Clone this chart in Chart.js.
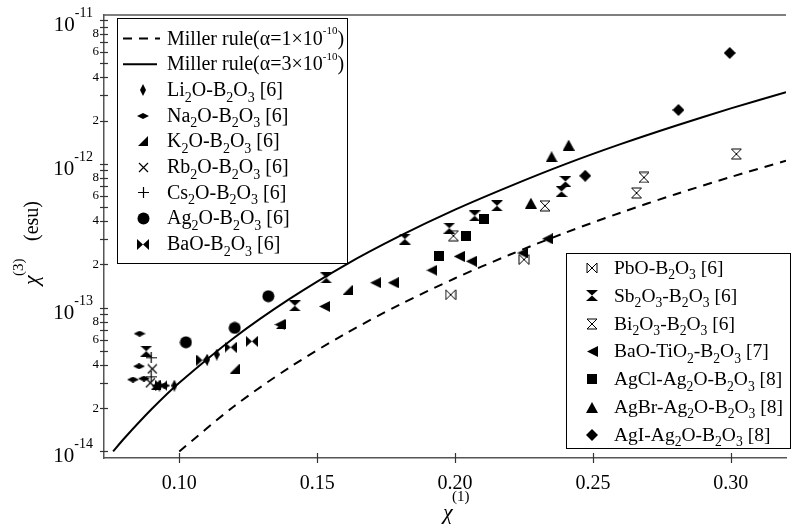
<!DOCTYPE html>
<html>
<head>
<meta charset="utf-8">
<script src="https://cdn.jsdelivr.net/npm/chart.js@4"></script>
<style>
  html, body { margin: 0; padding: 0; background: #fff; }
</style>
</head>
<body>
<canvas id="chart" width="792" height="525"></canvas>
<script>
// Miller rule curves
const millerSolidX = [0.076, 0.08, 0.09, 0.10, 0.12, 0.14, 0.16, 0.18, 0.20, 0.22, 0.24, 0.26, 0.28, 0.30, 0.32];
const millerSolidY = [1.0e-14, 1.23e-14, 1.97e-14, 3.0e-14, 6.2e-14, 1.15e-13, 1.97e-13, 3.15e-13, 4.8e-13, 7.0e-13, 9.95e-13, 1.37e-12, 1.84e-12, 2.43e-12, 3.15e-12];
const millerDashX = [0.10, 0.12, 0.14, 0.16, 0.18, 0.20, 0.22, 0.24, 0.26, 0.28, 0.30, 0.32];
const millerDashY = [1.0e-14, 2.07e-14, 3.84e-14, 6.55e-14, 1.05e-13, 1.6e-13, 2.34e-13, 3.32e-13, 4.57e-13, 6.15e-13, 8.1e-13, 1.05e-12];

// glass data
const li2oX = [0.0928, 0.0982, 0.1101, 0.1136];
const li2oY = [2.87e-14, 2.87e-14, 4.35e-14, 4.72e-14];
const na2oX = [0.0856, 0.0854, 0.0832, 0.0872, 0.0921, 0.0946];
const na2oY = [6.59e-14, 3.91e-14, 3.16e-14, 3.21e-14, 2.87e-14, 2.87e-14];
const k2oX = [0.0916, 0.1201, 0.1369, 0.161];
const k2oY = [2.92e-14, 3.77e-14, 7.71e-14, 1.33e-13];
const rb2oX = [0.0902, 0.0895];
const rb2oY = [3.75e-14, 3.0e-14];
const cs2oX = [0.0898, 0.0898];
const cs2oY = [4.48e-14, 3.3e-14];
const ag2oX = [0.1024, 0.1201, 0.1323];
const ag2oY = [5.74e-14, 7.23e-14, 1.20e-13];
const baoX = [0.0935, 0.1084, 0.1186, 0.1263];
const baoY = [2.87e-14, 4.31e-14, 5.30e-14, 5.83e-14];
const pboX = [0.1984, 0.2250];
const pboY = [1.23e-13, 2.16e-13];
const sb2o3X = [0.0880, 0.1419, 0.1533, 0.1818, 0.1979, 0.2071, 0.2152, 0.2386, 0.2400];
const sb2o3Y = [4.98e-14, 1.03e-13, 1.61e-13, 3.0e-13, 3.57e-13, 4.35e-13, 5.11e-13, 6.43e-13, 7.54e-13];
const bi2o3X = [0.1994, 0.2326, 0.2658, 0.2685, 0.3020];
const bi2o3Y = [3.16e-13, 5.11e-13, 6.27e-13, 8.04e-13, 1.17e-12];
const baotiX = [0.1365, 0.1527, 0.1712, 0.1776, 0.1916, 0.2015, 0.2059, 0.2245, 0.2335];
const baotiY = [7.62e-14, 1.02e-13, 1.49e-13, 1.49e-13, 1.82e-13, 2.27e-13, 2.10e-13, 2.40e-13, 3.01e-13];
const agclX = [0.1943, 0.2041, 0.2105];
const agclY = [2.27e-13, 3.13e-13, 4.15e-13];
const agbrX = [0.2275, 0.2350, 0.2412];
const agbrY = [5.33e-13, 1.12e-12, 1.35e-12];
const agiX = [0.2472, 0.2810, 0.2996];
const agiY = [8.26e-13, 2.37e-12, 5.9e-12];

const legendA = ['Miller rule(α=1×10^{-10})', 'Miller rule(α=3×10^{-10})', 'Li_2O-B_2O_3 [6]', 'Na_2O-B_2O_3 [6]',
  'K_2O-B_2O_3 [6]', 'Rb_2O-B_2O_3 [6]', 'Cs_2O-B_2O_3 [6]', 'Ag_2O-B_2O_3 [6]', 'BaO-B_2O_3 [6]'];
const legendB = ['PbO-B_2O_3 [6]', 'Sb_2O_3-B_2O_3 [6]', 'Bi_2O_3-B_2O_3 [6]', 'BaO-TiO_2-B_2O_3 [7]',
  'AgCl-Ag_2O-B_2O_3 [8]', 'AgBr-Ag_2O-B_2O_3 [8]', 'AgI-Ag_2O-B_2O_3 [8]'];

const xTicks = [0.10, 0.15, 0.20, 0.25, 0.30];
const yDecades = [-14, -13, -12, -11];

const FONT = '"Liberation Serif", "Times New Roman", serif';

// marker glyphs drawn on little canvases
function mk(w, h, draw) {
  const c = document.createElement('canvas');
  c.width = w; c.height = h;
  const g = c.getContext('2d');
  g.fillStyle = '#000'; g.strokeStyle = '#000'; g.lineWidth = 1.2;
  draw(g, w, h);
  return c;
}
function poly(g, p) {
  g.beginPath(); g.moveTo(p[0][0], p[0][1]);
  for (let i = 1; i < p.length; i++) g.lineTo(p[i][0], p[i][1]);
  g.closePath(); g.fill();
}
const mLi = mk(6, 12, (g, w, h) => poly(g, [[w / 2, 0], [w, h / 2], [w / 2, h], [0, h / 2]]));
const mNa = mk(12, 6, (g, w, h) => poly(g, [[w / 2, 0], [w, h / 2], [w / 2, h], [0, h / 2]]));
const mK = mk(10, 10, (g, w, h) => poly(g, [[w, 0], [w, h], [0, h]]));
const mRb = mk(11, 11, (g, w, h) => { g.beginPath(); g.moveTo(1, 1); g.lineTo(w - 1, h - 1); g.moveTo(w - 1, 1); g.lineTo(1, h - 1); g.stroke(); });
const mCs = mk(11, 11, (g, w, h) => { g.beginPath(); g.moveTo(w / 2, 0); g.lineTo(w / 2, h); g.moveTo(0, h / 2); g.lineTo(w, h / 2); g.stroke(); });
const mAg = mk(13, 13, (g, w, h) => { g.beginPath(); g.arc(w / 2, h / 2, 6, 0, Math.PI * 2); g.fill(); });
const mBa = mk(12, 11, (g, w, h) => { poly(g, [[0, 0], [w / 2, h / 2], [0, h]]); poly(g, [[w, 0], [w / 2, h / 2], [w, h]]); });
const mPb = mk(12, 12, (g, w, h) => { g.lineWidth = 1; g.beginPath(); g.moveTo(1, 1); g.lineTo(w - 1, h - 1); g.lineTo(w - 1, 1); g.lineTo(1, h - 1); g.closePath(); g.stroke(); });
const mSb = mk(12, 11, (g, w, h) => { poly(g, [[0, 0], [w, 0], [w / 2, h / 2]]); poly(g, [[0, h], [w, h], [w / 2, h / 2]]); });
const mBi = mk(12, 12, (g, w, h) => { g.lineWidth = 1; g.beginPath(); g.moveTo(1, 1); g.lineTo(w - 1, 1); g.lineTo(1, h - 1); g.lineTo(w - 1, h - 1); g.closePath(); g.stroke(); });
const mTi = mk(11, 11, (g, w, h) => poly(g, [[0, h / 2], [w, 0], [w, h]]));
const mCl = mk(10, 10, (g, w, h) => g.fillRect(0, 0, w, h));
const mBr = mk(12, 11, (g, w, h) => poly(g, [[w / 2, 0], [w, h], [0, h]]));
const mI = mk(12, 12, (g, w, h) => poly(g, [[w / 2, 0], [w, h / 2], [w / 2, h], [0, h / 2]]));

const marksA = [null, null, mLi, mNa, mK, mRb, mCs, mAg, mBa];
const marksB = [mPb, mSb, mBi, mTi, mCl, mBr, mI];

function pts(xs, ys) { return xs.map((x, i) => ({ x: x, y: ys[i] })); }

function scatterSet(label, xs, ys, mark) {
  return { label: label, data: pts(xs, ys), showLine: false, pointStyle: mark, pointRadius: 5, order: 1 };
}

// rich text: _x = subscript char, ^{..} = superscript
function parseRich(s) {
  const out = []; let buf = '', i = 0;
  while (i < s.length) {
    const ch = s[i];
    if (ch === '_') { if (buf) out.push([buf, 0]); buf = ''; out.push([s[i + 1], -1]); i += 2; }
    else if (ch === '^' && s[i + 1] === '{') {
      if (buf) out.push([buf, 0]); buf = '';
      const j = s.indexOf('}', i); out.push([s.slice(i + 2, j), 1]); i = j + 1;
    } else { buf += ch; i++; }
  }
  if (buf) out.push([buf, 0]);
  return out;
}
function drawRich(ctx, s, x, y, size) {
  ctx.textAlign = 'left'; ctx.textBaseline = 'alphabetic';
  parseRich(s).forEach(([t, m]) => {
    const fs = m === 0 ? size : size * (m === 1 ? 0.55 : 0.7);
    ctx.font = fs + 'px ' + FONT;
    const dy = m === -1 ? size * 0.28 : (m === 1 ? -size * 0.52 : 0);
    ctx.fillText(t, x, y + dy);
    x += ctx.measureText(t).width;
  });
}

function sig(v) {
  const e = Math.floor(Math.log10(v) + 1e-9);
  return Math.round(v / Math.pow(10, e));
}

const decor = {
  id: 'decor',
  afterDraw(chart) {
    const ctx = chart.ctx, a = chart.chartArea, xs = chart.scales.x, ys = chart.scales.y;
    ctx.save();
    ctx.strokeStyle = '#555'; ctx.lineWidth = 1.5;
    ctx.beginPath(); ctx.moveTo(a.left, a.top); ctx.lineTo(a.right, a.top); ctx.stroke();

    // ticks crossing the axes
    ctx.strokeStyle = '#333'; ctx.lineWidth = 1.2;
    ys.ticks.forEach(t => {
      const py = Math.round(ys.getPixelForValue(t.value)) + 0.5;
      ctx.beginPath(); ctx.moveTo(a.left - 4, py); ctx.lineTo(a.left + 4, py); ctx.stroke();
    });
    xs.ticks.forEach(t => {
      const px = Math.round(xs.getPixelForValue(t.value)) + 0.5;
      ctx.beginPath(); ctx.moveTo(px, a.bottom - 5); ctx.lineTo(px, a.bottom + 5); ctx.stroke();
    });

    // decade labels 10^n
    ctx.fillStyle = '#000';
    yDecades.forEach(e => {
      const py = ys.getPixelForValue(Math.pow(10, e));
      const sup = String(e);
      ctx.font = '14px ' + FONT;
      const sw = ctx.measureText(sup).width;
      ctx.textBaseline = 'alphabetic'; ctx.textAlign = 'right';
      ctx.fillText(sup, 93, py - 3);
      ctx.font = '21px ' + FONT;
      ctx.fillText('10', 93 - sw, py + 11);
    });

    // axis titles
    ctx.textAlign = 'left'; ctx.textBaseline = 'alphabetic';
    ctx.font = 'italic 22px ' + FONT;
    ctx.fillText('χ', 443, 519);
    ctx.font = '15px ' + FONT;
    ctx.fillText('(1)', 452, 501);

    ctx.save();
    ctx.translate(38, 285);
    ctx.rotate(-Math.PI / 2);
    ctx.font = 'italic 22px ' + FONT;
    ctx.fillText('χ', 0, 0);
    ctx.font = '15px ' + FONT;
    ctx.fillText('(3)', 9, -15);
    ctx.font = '20px ' + FONT;
    ctx.fillText('(esu)', 44, 0);
    ctx.restore();

    // legend boxes
    ctx.strokeStyle = '#000'; ctx.lineWidth = 1; ctx.fillStyle = '#fff';
    ctx.fillRect(117, 18, 230, 245); ctx.strokeRect(117.5, 18.5, 230, 245);
    ctx.fillRect(566, 253, 224, 195); ctx.strokeRect(566.5, 253.5, 224, 195);
    ctx.fillStyle = '#000';
    legendA.forEach((s, i) => {
      const cy = 38.5 + i * 25.7;
      if (i === 0) {
        ctx.lineWidth = 2; ctx.setLineDash([9, 7]);
        ctx.beginPath(); ctx.moveTo(123, cy); ctx.lineTo(160, cy); ctx.stroke(); ctx.setLineDash([]);
      } else if (i === 1) {
        ctx.lineWidth = 2;
        ctx.beginPath(); ctx.moveTo(123, cy); ctx.lineTo(157, cy); ctx.stroke();
      } else {
        const m = marksA[i];
        ctx.drawImage(m, Math.round(143 - m.width / 2), Math.round(cy - m.height / 2));
      }
      drawRich(ctx, s, 167, cy + 6, 20);
    });
    legendB.forEach((s, i) => {
      const cy = 268 + i * 27.8;
      const m = marksB[i];
      ctx.drawImage(m, Math.round(592 - m.width / 2), Math.round(cy - m.height / 2));
      drawRich(ctx, s, 614, cy + 6, 19.5);
    });
    ctx.restore();
  }
};

const yTickVals = [];
yDecades.forEach(e => { for (let m = 1; m <= 9; m++) { if (e < -11 || m === 1) yTickVals.push(m * Math.pow(10, e)); } });

new Chart(document.getElementById('chart'), {
  type: 'scatter',
  data: {
    datasets: [
      { label: legendA[0], data: pts(millerDashX, millerDashY), showLine: true, borderColor: '#000', borderWidth: 2,
        borderDash: [9, 7], pointRadius: 0, tension: 0.3, order: 2 },
      { label: legendA[1], data: pts(millerSolidX, millerSolidY), showLine: true, borderColor: '#000', borderWidth: 2,
        pointRadius: 0, tension: 0.3, order: 2 },
      scatterSet(legendA[2], li2oX, li2oY, mLi),
      scatterSet(legendA[3], na2oX, na2oY, mNa),
      scatterSet(legendA[4], k2oX, k2oY, mK),
      scatterSet(legendA[5], rb2oX, rb2oY, mRb),
      scatterSet(legendA[6], cs2oX, cs2oY, mCs),
      scatterSet(legendA[7], ag2oX, ag2oY, mAg),
      scatterSet(legendA[8], baoX, baoY, mBa),
      scatterSet(legendB[0], pboX, pboY, mPb),
      scatterSet(legendB[1], sb2o3X, sb2o3Y, mSb),
      scatterSet(legendB[2], bi2o3X, bi2o3Y, mBi),
      scatterSet(legendB[3], baotiX, baotiY, mTi),
      scatterSet(legendB[4], agclX, agclY, mCl),
      scatterSet(legendB[5], agbrX, agbrY, mBr),
      scatterSet(legendB[6], agiX, agiY, mI)
    ]
  },
  options: {
    responsive: false,
    animation: false,
    devicePixelRatio: 1,
    layout: { padding: { top: 15, right: 0, left: 0, bottom: 0 } },
    plugins: { legend: { display: false }, tooltip: { enabled: false } },
    scales: {
      x: {
        type: 'linear', min: 0.0727, max: 0.32,
        afterBuildTicks: s => { s.ticks = xTicks.map(v => ({ value: v })); },
        afterFit: s => { s.height = 67; },
        grid: { drawOnChartArea: false, drawTicks: false },
        border: { color: '#555', width: 1.5 },
        ticks: { padding: 14, color: '#000', font: { family: FONT, size: 20 }, maxRotation: 0,
          callback: v => Number(v).toFixed(2) }
      },
      y: {
        type: 'logarithmic', min: 9.08e-15, max: 1.084e-11,
        afterBuildTicks: s => { s.ticks = yTickVals.map(v => ({ value: v })); },
        afterFit: s => { s.width = 104; },
        grid: { drawOnChartArea: false, drawTicks: false },
        border: { color: '#555', width: 1.5 },
        ticks: { padding: 5, color: '#000', font: { family: FONT, size: 13 }, autoSkip: false,
          callback: v => { const m = sig(v); return (m % 2 === 0) ? String(m) : ''; } }
      }
    }
  },
  plugins: [decor]
});
</script>
</body>
</html>
